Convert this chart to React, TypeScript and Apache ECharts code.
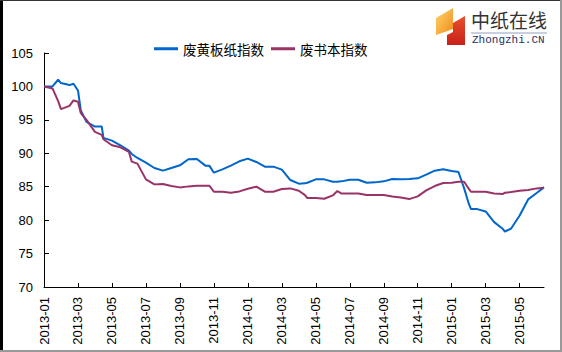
import React, { useEffect, useRef } from "react";
import * as echarts from "echarts";

const dates = [
  "2013-01-01", "2013-01-16", "2013-01-26", "2013-02-01", "2013-02-16", "2013-02-23",
  "2013-03-01", "2013-03-06", "2013-03-16", "2013-04-01", "2013-04-13", "2013-04-16",
  "2013-05-01", "2013-05-16", "2013-06-01", "2013-06-06", "2013-06-16", "2013-07-01",
  "2013-07-16", "2013-08-01", "2013-08-16", "2013-09-01", "2013-09-16", "2013-10-01",
  "2013-10-16", "2013-10-23", "2013-11-01", "2013-11-16", "2013-12-01", "2013-12-16",
  "2014-01-01", "2014-01-16", "2014-02-01", "2014-02-16", "2014-03-01", "2014-03-16",
  "2014-04-01", "2014-04-12", "2014-04-16", "2014-05-01", "2014-05-16", "2014-06-01",
  "2014-06-09", "2014-06-16", "2014-07-01", "2014-07-16", "2014-08-01", "2014-08-16",
  "2014-09-01", "2014-09-16", "2014-10-01", "2014-10-16", "2014-11-01", "2014-11-16",
  "2014-12-01", "2014-12-16", "2015-01-01", "2015-01-13", "2015-01-23", "2015-02-01",
  "2015-02-05", "2015-02-16", "2015-03-01", "2015-03-16", "2015-04-01", "2015-04-05",
  "2015-04-16", "2015-05-01", "2015-05-16", "2015-06-01", "2015-06-14",
];

const boardIndex = [
  100, 100.0, 101.0, 100.5, 100.2, 100.4,
  99.4, 96.4, 94.7, 94.0, 94.0, 92.3,
  91.9, 91.2, 90.4, 89.9, 89.3, 88.6,
  87.8, 87.4, 87.8, 88.2, 89.1, 89.15,
  88.15, 88.15, 87.1, 87.6, 88.15, 88.8,
  89.2, 88.7, 88.0, 88.0, 87.55, 86.0,
  85.45, 85.5, 85.6, 86.1, 86.1, 85.75,
  85.75, 85.8, 86.05, 86.05, 85.6, 85.65,
  85.8, 86.15, 86.1, 86.15, 86.25, 86.8,
  87.4, 87.6, 87.35, 87.2, 84.75, 82.5,
  81.65, 81.65, 81.3, 79.7, 78.7, 78.3,
  78.75, 80.7, 83.1, 84.05, 84.9,
];

const bookIndex = [
  100, 99.7, 97.8, 96.6, 97.1, 97.9,
  97.7, 96.0, 95.0, 93.2, 92.75, 92.1,
  91.2, 90.9, 90.2, 88.75, 88.45, 86.1,
  85.35, 85.4, 85.1, 84.9, 85.05, 85.15,
  85.15, 85.15, 84.25, 84.25, 84.1, 84.3,
  84.7, 85.0, 84.25, 84.25, 84.65, 84.75,
  84.4, 83.75, 83.3, 83.3, 83.2, 83.7,
  84.35, 84.0, 84.0, 84.0, 83.75, 83.75,
  83.75, 83.55, 83.4, 83.15, 83.55, 84.45,
  85.1, 85.55, 85.6, 85.75, 85.75, 84.7,
  84.25, 84.25, 84.25, 84.0, 83.9, 84.1,
  84.2, 84.4, 84.5, 84.75, 84.85,
];

const seriesNames = ["废黄板纸指数", "废书本指数"];
const xTickMonths = [0, 2, 4, 6, 8, 10, 12, 14, 16, 18, 20, 22, 24, 26, 28];
const yTicks = [70, 75, 80, 85, 90, 95, 100, 105];

function monthPos(d: string): number {
  const [y, m, day] = d.split("-").map(Number);
  return (y - 2013) * 12 + (m - 1) + (day - 1) / 30;
}

function monthLabel(v: number): string {
  const r = Math.round(v);
  const y = 2013 + Math.floor(r / 12);
  const m = (r % 12) + 1;
  return `${y}-${m < 10 ? "0" + m : m}`;
}

export default function App() {
  const ref = useRef<HTMLDivElement>(null);
  useEffect(() => {
    document.body.style.margin = "0";
    if (!ref.current) return;
    const chart = echarts.init(ref.current, null, { renderer: "svg" });
    const xs = dates.map(monthPos);
    const font = "Liberation Sans, Arial, sans-serif";
    chart.setOption({
      animation: false,
      backgroundColor: "#ffffff",
      grid: { left: 44, right: 18, top: 53, bottom: 65, containLabel: false },
      legend: {
        left: 149,
        top: 37,
        itemWidth: 24,
        itemHeight: 3,
        itemGap: 7,
        icon: "rect",
        textStyle: { fontSize: 13.5, color: "#000", fontFamily: "Noto Sans CJK SC, sans-serif" },
        data: seriesNames,
      },
      xAxis: {
        type: "value",
        min: 0,
        max: xs[xs.length - 1],
        interval: 2,
        splitLine: { show: false },
        axisLine: { show: true, lineStyle: { color: "#000", width: 1 } },
        axisTick: { show: true, inside: true, length: 4, lineStyle: { color: "#000" }, customValues: xTickMonths },
        axisLabel: {
          rotate: 90,
          margin: 10,
          fontSize: 13,
          color: "#000",
          fontFamily: font,
          customValues: xTickMonths,
          formatter: (v: number) => monthLabel(v),
        },
      },
      yAxis: {
        type: "value",
        min: 70,
        max: 105,
        interval: 5,
        splitLine: { show: false },
        axisLine: { show: true, lineStyle: { color: "#000", width: 1 } },
        axisTick: { show: true, inside: true, length: 5, lineStyle: { color: "#000" }, customValues: yTicks },
        axisLabel: { margin: 11, fontSize: 13, color: "#000", fontFamily: font, customValues: yTicks },
      },
      series: [
        {
          name: seriesNames[0],
          type: "line",
          symbol: "none",
          color: "#0066CC",
          lineStyle: { width: 2, color: "#0066CC" },
          data: xs.map((x, i) => [x, boardIndex[i]]),
        },
        {
          name: seriesNames[1],
          type: "line",
          symbol: "none",
          color: "#993366",
          lineStyle: { width: 2, color: "#993366" },
          data: xs.map((x, i) => [x, bookIndex[i]]),
        },
      ],
      graphic: [
        {
          type: "polygon",
          shape: { points: [[436, 18], [453, 8], [453, 29], [436, 35]] },
          style: {
            fill: new echarts.graphic.LinearGradient(0, 0, 1, 1, [
              { offset: 0, color: "#FFD66B" },
              { offset: 1, color: "#F08A1C" },
            ]),
          },
        },
        {
          type: "polygon",
          shape: { points: [[453, 23], [465, 16], [465, 45], [447, 45], [447, 35], [453, 32]] },
          style: {
            fill: new echarts.graphic.LinearGradient(0, 0, 0, 1, [
              { offset: 0, color: "#E8502A" },
              { offset: 1, color: "#C8201A" },
            ]),
          },
        },
        {
          type: "text",
          x: 471,
          y: 10,
          style: { text: "中纸在线", fontSize: 19, fill: "#333333", fontFamily: "Noto Sans CJK SC, sans-serif" },
        },
        {
          type: "line",
          shape: { x1: 471, y1: 33, x2: 547, y2: 33 },
          style: { stroke: "#8fa0c0", lineWidth: 1 },
        },
        {
          type: "text",
          x: 472,
          y: 34,
          style: { text: "Zhongzhi.CN", fontSize: 11, fill: "#1f2f5f", fontFamily: "Liberation Mono, monospace" },
        },
      ],
    });
    return () => chart.dispose();
  }, []);

  return (
    <div style={{ position: "relative", width: 562, height: 352, background: "#fff" }}>
      <div ref={ref} style={{ position: "absolute", left: 0, top: 0, width: 562, height: 352 }} />
      <div style={{ position: "absolute", left: 0, top: 0, width: 3, height: 352, background: "#000", pointerEvents: "none" }} />
      <div style={{ position: "absolute", left: 0, top: 0, width: 562, height: 1, background: "#333", pointerEvents: "none" }} />
      <div style={{ position: "absolute", right: 0, top: 0, width: 2, height: 352, background: "#999", pointerEvents: "none" }} />
      <div style={{ position: "absolute", left: 0, bottom: 0, width: 562, height: 2, background: "#999", pointerEvents: "none" }} />
    </div>
  );
}
